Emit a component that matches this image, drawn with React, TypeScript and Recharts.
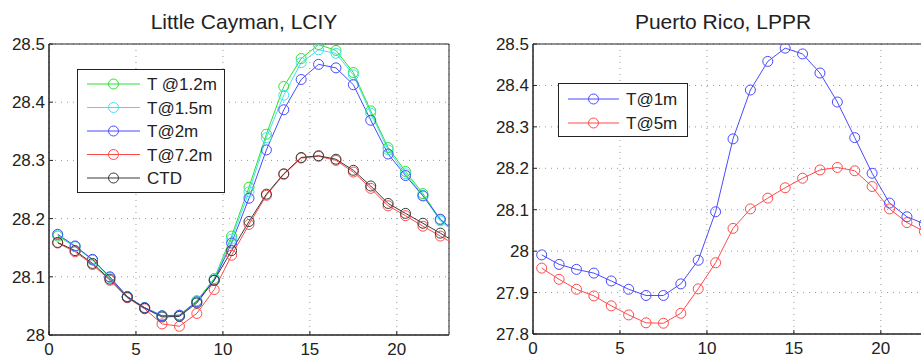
import React from 'react';
import { LineChart, Line, XAxis, YAxis, CartesianGrid, Legend, ReferenceArea } from 'recharts';

// hour of day (bin centres); the last one lies past the x limit and is clipped
const hours = [0.5, 1.5, 2.5, 3.5, 4.5, 5.5, 6.5, 7.5, 8.5, 9.5, 10.5, 11.5, 12.5, 13.5, 14.5, 15.5, 16.5, 17.5, 18.5, 19.5, 20.5, 21.5, 22.5, 23.5];

// Little Cayman, LCIY
const lcT12 = [28.170, 28.152, 28.129, 28.099, 28.066, 28.047, 28.033, 28.034, 28.059, 28.097, 28.170, 28.254, 28.345, 28.427, 28.475, 28.499, 28.489, 28.451, 28.385, 28.322, 28.281, 28.243, 28.198, 28.172];
const lcT15 = [28.172, 28.152, 28.129, 28.099, 28.066, 28.047, 28.033, 28.033, 28.058, 28.095, 28.165, 28.246, 28.339, 28.412, 28.468, 28.490, 28.484, 28.447, 28.381, 28.318, 28.277, 28.240, 28.196, 28.173];
const lcT2 = [28.173, 28.153, 28.130, 28.100, 28.066, 28.047, 28.033, 28.034, 28.057, 28.094, 28.158, 28.235, 28.318, 28.387, 28.439, 28.465, 28.459, 28.430, 28.369, 28.311, 28.274, 28.239, 28.199, 28.174];
const lcT72 = [28.158, 28.143, 28.121, 28.094, 28.064, 28.045, 28.019, 28.015, 28.037, 28.078, 28.137, 28.190, 28.240, 28.276, 28.304, 28.307, 28.300, 28.280, 28.252, 28.222, 28.205, 28.187, 28.170, 28.153];
const lcCTD = [28.159, 28.145, 28.123, 28.096, 28.065, 28.046, 28.031, 28.032, 28.055, 28.094, 28.145, 28.195, 28.242, 28.277, 28.305, 28.308, 28.302, 28.283, 28.256, 28.226, 28.209, 28.192, 28.175, 28.157];

// Puerto Rico, LPPR
const prT1 = [27.991, 27.968, 27.956, 27.947, 27.928, 27.908, 27.893, 27.893, 27.921, 27.978, 28.095, 28.271, 28.389, 28.458, 28.490, 28.476, 28.430, 28.360, 28.274, 28.188, 28.116, 28.083, 28.066, 28.030];
const prT5 = [27.959, 27.932, 27.908, 27.892, 27.868, 27.846, 27.827, 27.826, 27.850, 27.909, 27.972, 28.055, 28.102, 28.128, 28.153, 28.176, 28.196, 28.202, 28.194, 28.156, 28.102, 28.069, 28.048, 28.000];

const xTicks = [0, 5, 10, 15, 20];
const lcYTicks = [28, 28.1, 28.2, 28.3, 28.4, 28.5];
const prYTicks = [27.8, 27.9, 28, 28.1, 28.2, 28.3, 28.4, 28.5];

const lcSeries = [
  { key: 't12', name: 'T @1.2m', color: '#2ee02e' },
  { key: 't15', name: 'T@1.5m', color: '#3fe3f0' },
  { key: 't2', name: 'T@2m', color: '#4a4aff' },
  { key: 't72', name: 'T@7.2m', color: '#ff4a4a' },
  { key: 'ctd', name: 'CTD', color: '#3a3a3a' },
];
const prSeries = [
  { key: 't1', name: 'T@1m', color: '#4a4aff' },
  { key: 't5', name: 'T@5m', color: '#ff4a4a' },
];

const lcData = hours.map((h, i) => ({ hour: h, t12: lcT12[i], t15: lcT15[i], t2: lcT2[i], t72: lcT72[i], ctd: lcCTD[i] }));
const prData = hours.map((h, i) => ({ hour: h, t1: prT1[i], t5: prT5[i] }));

const FONT = '"Liberation Sans", Arial, Helvetica, sans-serif';
const tickStyle = { fontSize: 17, fill: '#222', fontFamily: FONT };

const makeLegend = (series: { name: string }[], w: number, h: number, rowTop: number, rowGap: number, textX: number) =>
  (props: any) => {
    const order = series.map((s) => s.name);
    const items = [...(props.payload || [])].sort((a, b) => order.indexOf(a.value) - order.indexOf(b.value));
    return (
      <svg width={w} height={h} style={{ display: 'block' }}>
        <rect x={0.5} y={0.5} width={w - 1} height={h - 1} fill="#fff" stroke="#222" />
        {items.map((it: any, i: number) => {
          const y = rowTop + i * rowGap;
          return (
            <g key={it.value}>
              <line x1={10} x2={textX - 7} y1={y} y2={y} stroke={it.color} strokeWidth={1} />
              <circle cx={(10 + textX - 7) / 2} cy={y} r={5} fill="none" stroke={it.color} />
              <text x={textX} y={y + 6} fontSize={17} fontFamily={FONT} fill="#222">{it.value}</text>
            </g>
          );
        })}
      </svg>
    );
  };

const Panel = ({ data, series, yTicks, domain, xHeight, legend, legendPos }: any) => (
  <LineChart width={460} height={358} data={data} margin={{ top: 44, right: 11, left: 0, bottom: 0 }}>
    <CartesianGrid stroke="#999" strokeDasharray="1 5" />
    <XAxis
      dataKey="hour"
      type="number"
      domain={[0, 23]}
      ticks={xTicks}
      interval={0}
      allowDataOverflow
      height={xHeight}
      tickSize={-4}
      tickMargin={12}
      tick={tickStyle}
      stroke="#222"
    />
    <YAxis
      type="number"
      domain={domain}
      ticks={yTicks}
      interval={0}
      allowDataOverflow
      width={49}
      tickSize={-4}
      tickMargin={8}
      tick={tickStyle}
      tickFormatter={(v: number) => String(v)}
      stroke="#222"
    />
    <ReferenceArea x1={0} x2={23} y1={domain[0]} y2={domain[1]} fill="none" fillOpacity={0} stroke="#222" />
    {series.map((s: any) => (
      <Line
        key={s.key}
        dataKey={s.key}
        name={s.name}
        type="linear"
        stroke={s.color}
        strokeWidth={1}
        dot={{ r: 5, fill: 'none', stroke: s.color, strokeWidth: 1 }}
        activeDot={false}
        isAnimationActive={false}
      />
    ))}
    <Legend
      layout="vertical"
      align="center"
      verticalAlign="middle"
      content={legend}
      wrapperStyle={{ left: legendPos[0], top: legendPos[1], width: 'auto', height: 'auto' }}
    />
  </LineChart>
);

export default function App() {
  return (
    <div style={{ position: 'absolute', left: 0, top: 0, width: 921, height: 358, overflow: 'hidden', background: '#fff', fontFamily: FONT }}>
      <div style={{ position: 'absolute', left: 44, top: 11, width: 400, textAlign: 'center', fontSize: 21, lineHeight: 1, color: '#222' }}>
        Little Cayman, LCIY
      </div>
      <div style={{ position: 'absolute', left: 523, top: 11, width: 400, textAlign: 'center', fontSize: 21, lineHeight: 1, color: '#222' }}>
        Puerto Rico, LPPR
      </div>
      <div style={{ position: 'absolute', left: 0, top: 0 }}>
        <Panel
          data={lcData}
          series={lcSeries}
          yTicks={lcYTicks}
          domain={[28, 28.5]}
          xHeight={23}
          legend={makeLegend(lcSeries, 148, 124, 15, 23.5, 70)}
          legendPos={[77, 69]}
        />
      </div>
      <div style={{ position: 'absolute', left: 484, top: 0 }}>
        <Panel
          data={prData}
          series={prSeries}
          yTicks={prYTicks}
          domain={[27.8, 28.5]}
          xHeight={24}
          legend={makeLegend(prSeries, 130, 54, 16, 24, 68)}
          legendPos={[74, 83]}
        />
      </div>
    </div>
  );
}
